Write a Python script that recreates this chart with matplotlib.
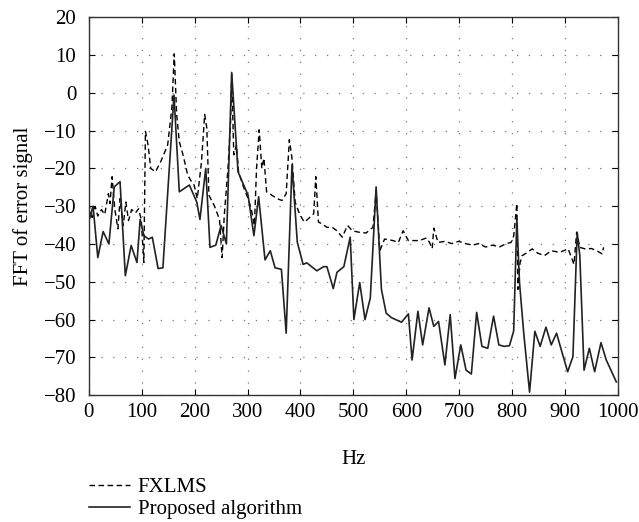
import matplotlib
matplotlib.use("Agg")
import matplotlib.pyplot as plt

plt.rcParams['font.family'] = ['Liberation Serif', 'DejaVu Serif']
plt.rcParams['font.size'] = 15

# FXLMS (dashed)
hz_fxlms = [0, 6, 12, 17, 24, 30, 37, 40, 44, 49, 55, 59, 65, 70, 75, 81, 88, 94, 99, 104,
            107, 112, 117, 126, 136, 149, 157, 161.5, 166, 171, 178, 187, 194, 199, 205, 213,
            219, 223, 227, 237, 247, 252, 256, 263, 268, 270, 274, 279, 283, 291, 301, 307,
            313, 317, 322, 327, 331, 336, 346, 356, 365, 373, 379, 384, 390, 397, 404, 408,
            418, 425, 429, 434, 441, 450, 460, 469, 479, 489, 498, 511, 524, 537, 543, 550,
            559, 575, 585, 594, 604, 612, 625, 638, 644, 649, 652, 660, 673, 686, 699, 712,
            725, 737, 750, 763, 776, 789, 798, 803, 809, 811, 815, 819, 829, 838, 848, 861,
            874, 890, 906, 917, 922, 928, 938, 950, 960, 970, 973]
fft_fxlms = [-29.2, -33.5, -30.1, -32.6, -30.9, -32.2, -26.7, -29.3, -22.2, -30.7, -36, -28,
             -35.1, -28.9, -33.8, -30.9, -31.8, -30.7, -33.5, -44.9, -10.2, -13.8, -20, -20.9,
             -18.2, -13.8, -3.9, 10.3, -5.7, -12.9, -16.4, -21.8, -23.5, -24.4, -28, -18.2,
             -5.7, -9.3, -27.1, -29.8, -33.5, -43.6, -32.4, -20, -7.5, 4.9, -16.4, -13.8,
             -20.9, -24.4, -28, -30.7, -35.1, -20, -9.8, -20, -17.3, -26.2, -27.1, -28, -28.5,
             -26.7, -12.4, -17.3, -28.9, -31.6, -33.5, -34.2, -32.9, -32, -22.2, -34.2, -34.7,
             -35.6, -35.6, -36.5, -38.2, -35.1, -36.5, -36.9, -37.1, -35.6, -26, -41.8, -38.7,
             -39.1, -39.6, -36.5, -39.1, -39.1, -39.1, -38.4, -39.6, -41.2, -35.8, -39.6,
             -39.3, -39.9, -39.3, -39.9, -40.3, -39.9, -40.8, -40.3, -40.8, -39.9, -39.6,
             -37.9, -29.3, -52, -45, -43.1, -42.2, -41.3, -42.4, -43.1, -41.8, -42.2, -41.3,
             -45.4, -36.9, -40.9, -41.3, -41.2, -41.8, -42.6, -40.9]

# Proposed algorithm (solid)
hz_prop = [0, 8, 17, 27, 38, 48, 59, 69, 80, 91, 97, 104, 113, 120, 131, 140, 161, 171, 190,
           204, 210, 221, 229, 240, 250, 260, 270, 282, 301, 312, 321, 333, 343, 352, 364,
           373, 384, 394, 405, 412, 431, 444, 450, 462, 469, 482, 494, 501, 512, 522, 532,
           543, 553, 562, 572, 591, 604, 611, 622, 631, 643, 652, 661, 673, 683, 692, 703,
           713, 723, 733, 743, 754, 765, 775, 785, 795, 803, 809, 814, 822, 833, 843, 853,
           864, 874, 884, 894, 905, 915, 923, 928, 936, 946, 956, 968, 978, 997]
fft_prop = [-34, -30, -43.6, -36.7, -40, -24.9, -23.5, -48.4, -40.4, -44.9, -33.5, -37.8,
            -38.7, -38.2, -46.5, -46.3, -0.6, -26.2, -24.4, -28.9, -33.5, -20, -40.9, -40.3,
            -35.1, -40, 5.4, -20.9, -27.1, -37.8, -27.5, -44.2, -41.8, -46.3, -46.7, -63.6,
            -19.1, -39.5, -45.4, -45, -47.1, -46, -46, -51.8, -47.5, -46, -38.2, -60, -50.2,
            -60, -54.3, -24.9, -52, -58.3, -59.5, -60.7, -58.5, -70.7, -57.8, -66.7, -56.9,
            -61.8, -60.5, -72, -58.7, -75.6, -66.7, -73.4, -74.4, -58.1, -67.1, -67.6, -59.1,
            -66.7, -67.1, -66.9, -63, -33.3, -50.2, -63.6, -79.2, -63.1, -67.1, -62, -66.7,
            -63.6, -68.5, -73.8, -69.8, -36.9, -43.1, -73.4, -67.6, -73.8, -66.1, -70.7, -76.5]

xticks = list(range(0, 1001, 100))
yticks = list(range(-80, 21, 10))

fig = plt.figure(figsize=(6.39, 5.22), dpi=100)
ax = fig.add_axes([0.139, 0.243, 0.828, 0.724])

l1, = ax.plot(hz_fxlms, fft_fxlms, color='black', lw=1.0, dashes=(4, 2.5), label='FXLMS')
l2, = ax.plot(hz_prop, fft_prop, color='#222222', lw=1.2, label='Proposed algorithm')

ax.set_xlim(0, 1000)
ax.set_ylim(-80, 20)
ax.set_xticks(xticks)
ax.set_yticks(yticks)
ax.grid(True, color='#777777', lw=0.9, linestyle=(0, (1.0, 8.5)))
ax.tick_params(direction='in', length=4, top=True, right=True, width=0.8)
ax.tick_params(axis='y', pad=9)
ax.tick_params(axis='x', pad=6)
for s in ax.spines.values():
    s.set_color('#333333')
    s.set_linewidth(1.0)

ax.set_xlabel('Hz', labelpad=20)
ax.set_ylabel('FFT of error signal', labelpad=8)

fig.legend(handles=[l1, l2], loc='upper left', bbox_to_anchor=(0.139, 0.085),
           frameon=False, handlelength=2.0, handletextpad=0.35, labelspacing=0.1,
           borderaxespad=0, borderpad=0)

fig.savefig('out.png', dpi=100)
